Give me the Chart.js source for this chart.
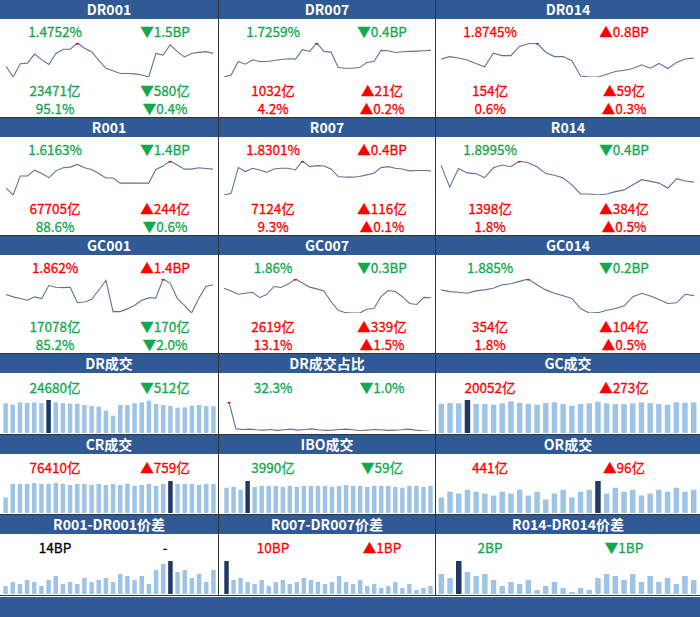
<!DOCTYPE html>
<html>
<head>
<meta charset="utf-8">
<script src="https://cdn.jsdelivr.net/npm/chart.js@4.4.1/dist/chart.umd.min.js"></script>
<style>
  body { margin: 0; background: #fff; }
  #board { position: relative; width: 700px; height: 617px; overflow: hidden; background: #fff;
           font-family: "Noto Sans CJK SC", "Liberation Sans", sans-serif; }
  .hd { position: absolute; left: 0; width: 700px; height: 19px; background: #2F5A95; }
  .ht { position: absolute; height: 19px; line-height: 19px; color: #fff; text-align: center;
        font-size: 14px; font-weight: bold; }
  .t { position: absolute; transform: translate(-50%, -50%); white-space: nowrap; font-size: 13.5px;
       line-height: 1; -webkit-text-stroke: 0.3px currentColor; }
  .g { color: #12A84F; } .r { color: #F00; } .k { color: #000; }
  .vl { position: absolute; width: 1px; top: 0; height: 596px; background: #333; }
  .hl { position: absolute; left: 0; width: 700px; height: 1px; background: #333; }
  canvas { position: absolute; }
</style>
</head>
<body>
<div id="board"></div>
<script>
// ---- sparkline series (height units) ----
const dr001 = [43,12,50,52,78,62,48,80,92,92,110,95,85,60,37,30,22,22,21,18,12,80,75,105,85,70,80,83,85,80];
const dr007 = [9,15,55,47,60,55,55,58,61,63,62,90,85,110,85,83,37,35,35,37,52,55,88,87,82,84,85,86,87,88];
const dr014 = [65,72,68,62,52,42,82,75,75,102,110,112,85,72,72,60,15,12,12,20,28,32,37,48,38,52,37,55,65,68];
const r001 = [32,12,68,68,85,75,63,83,92,94,102,92,87,75,62,62,47,47,47,47,47,87,97,112,100,88,88,92,90,88];
const r007 = [9,14,92,80,90,85,78,88,90,90,85,112,95,98,97,88,65,63,63,65,70,75,92,95,90,88,82,83,83,82];
const r014 = [100,35,90,77,75,63,92,100,95,112,107,95,75,70,62,42,15,15,12,15,22,27,42,57,52,47,32,60,53,50];
const gc001 = [62,55,50,45,55,50,88,83,82,83,38,40,48,75,103,12,12,20,30,45,52,52,107,95,50,30,8,50,85,90];
const gc007 = [80,72,62,65,68,52,62,85,82,92,107,95,83,78,72,40,15,8,7,7,18,20,55,73,70,55,35,32,53,52];
const gc014 = [75,70,68,65,72,75,80,90,93,100,107,90,75,65,58,50,20,7,8,15,20,28,55,65,57,47,35,37,62,58];
const drShare = [100,12,10,11,9,8,10,7,9,11,8,10,12,9,7,8,10,11,9,6,8,10,9,7,8,9,11,8,6,5];

// ---- bar series ----
const drVol = [27410,26180,28340,27720,28340,27720,30490,28340,27720,27100,27100,25870,24950,24330,20640,16020,25870,25870,27410,28340,29880,26800,25870,24950,23410,23720,25260,25870,24950,24680];
const gcVol = [19180,19620,19400,21580,18970,18970,18530,19400,20710,19620,18970,18530,19620,20060,18970,17880,18970,19400,20490,19400,18970,18970,19400,20060,19620,18970,18530,20060,19800,20052];
const crVol = [16,30,30,30,31,30,30,31,30,29,30,30,29,30,29,30,29,30,28,29,30,28,30,33,30,30,30,29,30,30];
const iboVol = [26,27,24,33,27,28,28,28,27,28,27,28,28,28,28,27,28,29,28,28,27,28,28,28,27,26,28,28,27,28];
const orVol = [16,22,20,24,22,20,18,22,20,24,18,22,14,20,24,16,22,24,33,20,26,22,24,18,20,24,22,26,22,24];
const spread001 = [8,12,10,14,12,8,14,18,10,12,10,16,12,14,16,12,20,18,14,18,10,24,30,33,22,24,16,20,12,24];
const spread007 = [33,14,16,12,10,14,8,12,14,10,12,16,14,12,10,12,18,12,10,14,8,10,6,8,12,6,10,4,6,8];
const spread014 = [20,16,33,22,18,20,14,8,12,10,14,4,8,12,6,2,6,4,16,20,18,14,20,12,18,12,16,10,18,14];

// ---- titles and readings ----
const titles = [
  ["DR001", "DR007", "DR014"],
  ["R001", "R007", "R014"],
  ["GC001", "GC007", "GC014"],
  ["DR成交", "DR成交占比", "GC成交"],
  ["CR成交", "IBO成交", "OR成交"],
  ["R001-DR001价差", "R007-DR007价差", "R014-DR014价差"]
];
// [text, colour] pairs: rate, rate change, volume, volume change, share, share change
const readings = [
  [[["1.4752%","g"],["▼1.5BP","g"],["23471亿","g"],["▼580亿","g"],["95.1%","g"],["▼0.4%","g"]],
   [["1.7259%","g"],["▼0.4BP","g"],["1032亿","r"],["▲21亿","r"],["4.2%","r"],["▲0.2%","r"]],
   [["1.8745%","r"],["▲0.8BP","r"],["154亿","r"],["▲59亿","r"],["0.6%","r"],["▲0.3%","r"]]],
  [[["1.6163%","g"],["▼1.4BP","g"],["67705亿","r"],["▲244亿","r"],["88.6%","g"],["▼0.6%","g"]],
   [["1.8301%","r"],["▲0.4BP","r"],["7124亿","r"],["▲116亿","r"],["9.3%","r"],["▲0.1%","r"]],
   [["1.8995%","g"],["▼0.4BP","g"],["1398亿","r"],["▲384亿","r"],["1.8%","r"],["▲0.5%","r"]]],
  [[["1.862%","r"],["▲1.4BP","r"],["17078亿","g"],["▼170亿","g"],["85.2%","g"],["▼2.0%","g"]],
   [["1.86%","g"],["▼0.3BP","g"],["2619亿","r"],["▲339亿","r"],["13.1%","r"],["▲1.5%","r"]],
   [["1.885%","g"],["▼0.2BP","g"],["354亿","r"],["▲104亿","r"],["1.8%","r"],["▲0.5%","r"]]],
  [[["24680亿","g"],["▼512亿","g"]],[["32.3%","g"],["▼1.0%","g"]],[["20052亿","r"],["▲273亿","r"]]],
  [[["76410亿","r"],["▲759亿","r"]],[["3990亿","g"],["▼59亿","g"]],[["441亿","r"],["▲96亿","r"]]],
  [[["14BP","k"],["-","k"]],[["10BP","r"],["▲1BP","r"]],[["2BP","g"],["▼1BP","g"]]]
];

const series = [
  [dr001, dr007, dr014],
  [r001, r007, r014],
  [gc001, gc007, gc014],
  [drVol, drShare, gcVol],
  [crVol, iboVol, orVol],
  [spread001, spread007, spread014]
];
const kinds = [
  ["line","line","line"], ["line","line","line"], ["line","line","line"],
  ["bar","line","bar"], ["bar","bar","bar"], ["bar","bar","bar"]
];

// ---- layout ----
const rowTop = [0, 118, 236, 354, 435, 515];
const colX = [[0,218],[219,435],[436,700]];
const textX = [[55,165],[273,382],[490,624]];
const lineX = [[6,213],[224,431],[441,694]];
const barX = [[1.5,216.5],[222.5,433.5],[437,698]];

const board = document.getElementById("board");
function el(tag, cls, css, txt) {
  const e = document.createElement(tag);
  if (cls) e.className = cls;
  Object.assign(e.style, css || {});
  if (txt != null) e.textContent = txt;
  board.appendChild(e);
  return e;
}

const lineColor = "#5F7399";
function sparkline(x0, x1, y0, y1, values) {
  const pad = 3;
  const c = el("canvas", null, { left: (x0 - pad) + "px", top: (y0 - pad) + "px" });
  c.width = x1 - x0 + pad * 2; c.height = y1 - y0 + pad * 2;
  const hi = Math.max(...values), lo = Math.min(...values);
  const hiIdx = values.indexOf(hi);
  new Chart(c, {
    type: "line",
    data: { labels: values.map((_, i) => i),
      datasets: [{ data: values, borderColor: lineColor, borderWidth: 1.1, tension: 0,
        pointRadius: values.map((_, i) => i === hiIdx ? 1.8 : 0),
        pointBackgroundColor: "#D8141B", pointBorderWidth: 0 }] },
    options: { responsive: false, animation: false, events: [],
      layout: { padding: pad },
      plugins: { legend: { display: false }, tooltip: { enabled: false } },
      scales: { x: { display: false }, y: { display: false, min: lo, max: hi } } }
  });
}

function bars(x0, x1, y0, y1, values) {
  const c = el("canvas", null, { left: x0 + "px", top: y0 + "px" });
  c.width = Math.round(x1 - x0); c.height = y1 - y0;
  const hi = Math.max(...values);
  const hiIdx = values.indexOf(hi);
  new Chart(c, {
    type: "bar",
    data: { labels: values.map((_, i) => i),
      datasets: [{ data: values, borderWidth: 0,
        backgroundColor: values.map((_, i) => i === hiIdx ? "#1F3864" : "#9DC3E6"),
        categoryPercentage: 1, barPercentage: 0.63 }] },
    options: { responsive: false, animation: false, events: [],
      layout: { padding: 0 },
      plugins: { legend: { display: false }, tooltip: { enabled: false } },
      scales: { x: { display: false }, y: { display: false, min: 0, max: hi } } }
  });
}

for (let r = 0; r < 6; r++) {
  const top = rowTop[r];
  el("div", "hd", { top: top + "px" });
  for (let c = 0; c < 3; c++) {
    const [cx0, cx1] = colX[c];
    el("div", "ht", { top: top + "px", left: cx0 + "px", width: (cx1 - cx0) + "px" }, titles[r][c]);
    const rd = readings[r][c];
    const [tx0, tx1] = textX[c];
    const big = r < 3;
    const y1 = big ? top + 32 : top + (r === 3 ? 34 : 33);
    el("div", "t " + rd[0][1], { left: tx0 + "px", top: y1 + "px" }, rd[0][0]);
    el("div", "t " + rd[1][1], { left: tx1 + "px", top: y1 + "px" }, rd[1][0]);
    if (big) {
      el("div", "t " + rd[2][1], { left: tx0 + "px", top: (top + 91) + "px" }, rd[2][0]);
      el("div", "t " + rd[3][1], { left: tx1 + "px", top: (top + 91) + "px" }, rd[3][0]);
      el("div", "t " + rd[4][1], { left: tx0 + "px", top: (top + 109) + "px" }, rd[4][0]);
      el("div", "t " + rd[5][1], { left: tx1 + "px", top: (top + 109) + "px" }, rd[5][0]);
    }
    const vals = series[r][c];
    if (kinds[r][c] === "line") {
      if (big) sparkline(lineX[c][0], lineX[c][1], top + 43, top + 77, vals);
      else sparkline(228, 430, top + 47, top + 78, vals);
    } else {
      const bottom = [0, 0, 0, 433, 513, 594][r];
      const barTop = [0, 0, 0, 400, 481, 561][r];
      bars(barX[c][0], barX[c][1], barTop, bottom, vals);
    }
  }
  const next = r < 5 ? rowTop[r + 1] : 596;
  el("div", "hl", { top: (next - 1) + "px" });
}
el("div", "vl", { left: "218px" });
el("div", "vl", { left: "435px" });
el("div", "hd", { top: "597px", height: "20px" });
</script>
</body>
</html>
